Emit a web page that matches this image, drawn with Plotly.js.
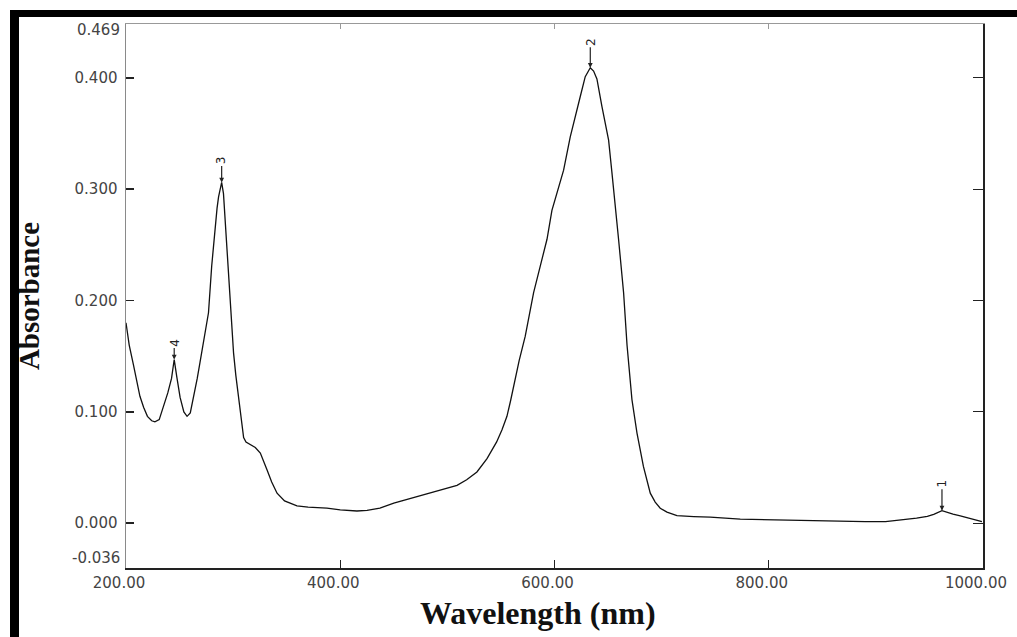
<!DOCTYPE html>
<html>
<head>
<meta charset="utf-8">
<script src="https://cdn.plot.ly/plotly-3.0.1.min.js"></script>
<style>
  html, body { margin: 0; padding: 0; background: #fff; }
  #wrap { position: relative; width: 1017px; height: 637px; }
  #chart { position: absolute; left: 0; top: 0; width: 1017px; height: 637px; }
  #frame { position: absolute; left: 10px; top: 10px; right: 0; bottom: 0;
           border-top: 7px solid #000; border-left: 9px solid #000; pointer-events: none; }
</style>
</head>
<body>
<div id="wrap"><div id="chart"></div><div id="frame"></div></div>
<script>
// Wavelength (nm)
const wavelength = [200,203,207,210,213,216.5,220,224,227,231,235,239,242.5,245,247.5,250.5,254,257,260,263.5,266.5,269,272,275,277,280,281.7,283.4,285,286.4,288,289.3,291,292.7,294.5,295.8,297.4,299,300.4,302.5,305,307.5,309.8,312,316,320.7,325.4,328.5,331.6,336,341,348,355,359.6,370,387.6,400,415.6,425,437,450,468.5,480,495,509,518,527.6,537,546,551,555.6,559,561.8,567,572.7,580.5,587,593,597.6,603,608.5,614.7,619,624,628.7,633.4,636.5,639.6,644.3,650.5,653.5,656.7,659.8,664.5,667.7,672.3,677,683,689.4,694,698.7,705,714.3,730,745.4,773.4,800,841.8,860,873,890,909,925,938,948,954,961.7,967,972,978.8,985,992,999];
// Absorbance
const absorbance = [0.180,0.160,0.142,0.127,0.114,0.104,0.096,0.092,0.091,0.093,0.104,0.117,0.130,0.147,0.131,0.113,0.100,0.096,0.099,0.115,0.130,0.144,0.160,0.177,0.189,0.231,0.250,0.270,0.283,0.293,0.302,0.306,0.296,0.270,0.240,0.219,0.189,0.170,0.153,0.133,0.114,0.094,0.077,0.073,0.071,0.068,0.063,0.056,0.048,0.037,0.027,0.020,0.017,0.0155,0.0145,0.0135,0.012,0.011,0.0115,0.0135,0.018,0.023,0.026,0.030,0.034,0.039,0.046,0.058,0.073,0.084,0.096,0.110,0.123,0.146,0.168,0.207,0.232,0.255,0.281,0.299,0.317,0.347,0.365,0.383,0.401,0.409,0.406,0.399,0.374,0.344,0.316,0.288,0.255,0.207,0.160,0.111,0.081,0.051,0.027,0.019,0.0135,0.010,0.0068,0.0060,0.0055,0.0036,0.0030,0.0024,0.0018,0.0015,0.0014,0.0015,0.0030,0.0045,0.0062,0.0080,0.0113,0.0095,0.0082,0.0066,0.0048,0.0032,0.0015];

// Peak markers
const peakLabels = ['4','3','2','1'];
const peakX = [245, 289.3, 633.4, 961.7];
const peakY = [0.147, 0.306, 0.409, 0.0113];
const peakOffset = [-17, -22, -26, -27];

// Axis ticks
const xTickVals = [200, 400, 600, 800, 1000];
const xTickText = ['200.00','400.00','600.00','800.00','1000.00'];
const yTickVals = [0, 0.1, 0.2, 0.3, 0.4];
const yTickText = ['0.000','0.100','0.200','0.300','0.400'];
const yEndLabels = ['-0.036', '0.469'];
const xTitle = 'Wavelength (nm)';
const yTitle = 'Absorbance';

const xRange = [200, 1000];
const yRange = [-0.0402, 0.4483];

const tickFont = {family: 'DejaVu Sans, sans-serif', size: 15, color: '#444'};
const titleFont = {family: 'Liberation Serif, Times New Roman, serif', size: 32, color: '#111', weight: 'bold'};

const trace = {
  x: wavelength, y: absorbance, type: 'scatter', mode: 'lines',
  line: {color: '#111', width: 1.3}, hoverinfo: 'skip', xaxis: 'x', yaxis: 'y'
};

const annotations = peakLabels.map((t, i) => ({
  x: peakX[i], y: peakY[i], xref: 'x', yref: 'y', text: t, textangle: -90,
  showarrow: true, ax: 0, ay: peakOffset[i], arrowhead: 2, arrowsize: 0.8, arrowwidth: 1.2,
  arrowcolor: '#222', standoff: 0, font: {family: 'DejaVu Sans, sans-serif', size: 12, color: '#222'}
}));
annotations.push({xref: 'paper', yref: 'paper', x: 0, y: 0.019, xanchor: 'right', yanchor: 'middle',
  xshift: -4, text: yEndLabels[0], showarrow: false, font: tickFont});
annotations.push({xref: 'paper', yref: 'paper', x: 0, y: 0.9895, xanchor: 'right', yanchor: 'middle',
  xshift: -4, text: yEndLabels[1], showarrow: false, font: tickFont});
// x-axis title (placed slightly left of centre, as in the original)
annotations.push({xref: 'paper', yref: 'paper', x: 0.481, y: 0, yanchor: 'middle', xanchor: 'center',
  yshift: -45, text: xTitle, showarrow: false, font: titleFont});

const layout = {
  width: 1017, height: 637,
  margin: {l: 126, r: 34, t: 24, b: 69},
  paper_bgcolor: '#fff', plot_bgcolor: '#fff',
  showlegend: false,
  xaxis: {
    range: xRange, tickvals: xTickVals, ticktext: xTickText,
    ticks: 'inside', ticklen: 8, tickcolor: '#222', tickwidth: 1,
    showline: true, linecolor: '#222', linewidth: 1.5, showgrid: false, zeroline: false,
    tickfont: tickFont, ticklabelshift: -7
  },
  xaxis2: {
    range: xRange, overlaying: 'x', side: 'top', tickvals: xTickVals,
    ticks: 'inside', ticklen: 5, tickcolor: '#999', showticklabels: false,
    showline: true, linecolor: '#999', linewidth: 1.5, showgrid: false, zeroline: false
  },
  yaxis: {
    range: yRange, tickvals: yTickVals, ticktext: yTickText,
    ticks: 'inside', ticklen: 8, tickcolor: '#222', tickwidth: 1.5,
    showline: true, linecolor: '#8a8a8a', linewidth: 1.5, showgrid: false, zeroline: false,
    tickfont: tickFont, ticklabelstandoff: 4,
    title: {text: yTitle, font: Object.assign({}, titleFont, {size: 29}), standoff: 26}
  },
  yaxis2: {
    range: yRange, overlaying: 'y', side: 'right', tickvals: yTickVals,
    ticks: 'inside', ticklen: 10, tickcolor: '#222', showticklabels: false,
    showline: true, linecolor: '#222', linewidth: 1.5, showgrid: false, zeroline: false
  },
  annotations: annotations
};

const dummy = {x: xRange, y: yRange, xaxis: 'x2', yaxis: 'y2', mode: 'markers',
  marker: {opacity: 0}, hoverinfo: 'skip'};

Plotly.newPlot('chart', [trace, dummy], layout, {staticPlot: true});
</script>
</body>
</html>
